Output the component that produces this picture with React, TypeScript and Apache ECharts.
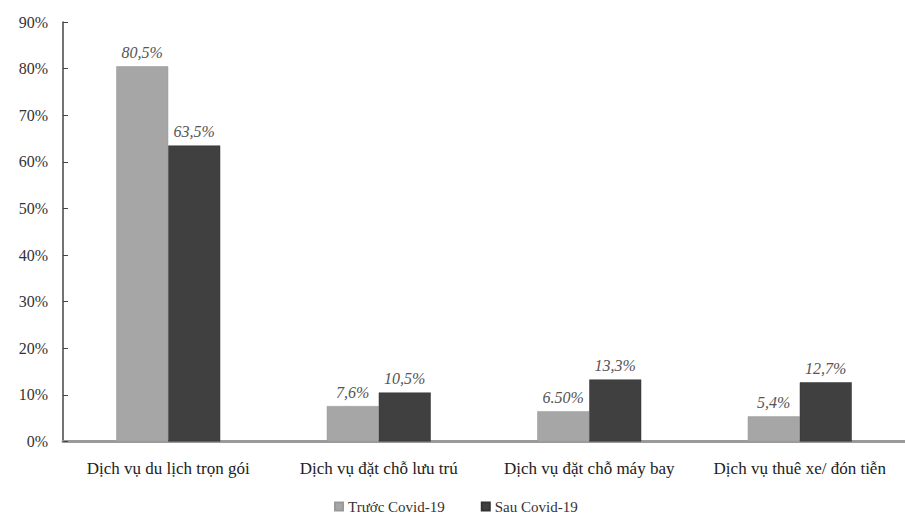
import React, { useEffect, useRef } from "react";
import * as echarts from "echarts";

const categories = [
  "Dịch vụ du lịch trọn gói",
  "Dịch vụ đặt chỗ lưu trú",
  "Dịch vụ đặt chỗ máy bay",
  "Dịch vụ thuê xe/ đón tiễn",
];
const beforeValues = [80.5, 7.6, 6.5, 5.4];
const afterValues = [63.5, 10.5, 13.3, 12.7];
const beforeLabels = ["80,5%", "7,6%", "6.50%", "5,4%"];
const afterLabels = ["63,5%", "10,5%", "13,3%", "12,7%"];
const seriesNames = ["Trước Covid-19", "Sau Covid-19"];
const yTicks = { min: 0, max: 90, interval: 10 };

const FONT = "'Liberation Serif', 'DejaVu Serif', serif";

export default function App() {
  const ref = useRef<HTMLDivElement>(null);
  useEffect(() => {
    if (!ref.current) return;
    const chart = echarts.init(ref.current, undefined, { renderer: "svg" });
    const labelStyle = {
      show: true,
      position: "top" as const,
      fontFamily: FONT,
      fontStyle: "italic" as const,
      fontSize: 16,
      color: "#555",
      distance: 6,
    };
    chart.setOption({
      animation: false,
      backgroundColor: "#fff",
      grid: { left: 63, top: 22, width: 856, height: 419.5, containLabel: false },
      legend: {
        data: seriesNames,
        left: 334,
        top: 499,
        padding: 0,
        itemWidth: 8,
        itemHeight: 8,
        itemGap: 36,
        icon: "rect",
        textStyle: { fontFamily: FONT, fontSize: 15, color: "#333" },
      },
      xAxis: {
        type: "category",
        data: categories,
        axisLine: { show: true, lineStyle: { color: "#9a9a9a", width: 3 } },
        axisTick: { show: false },
        axisLabel: {
          fontFamily: FONT,
          fontSize: 17,
          color: "#222",
          margin: 18,
          interval: 0,
        },
      },
      yAxis: {
        type: "value",
        min: yTicks.min,
        max: yTicks.max,
        interval: yTicks.interval,
        axisLine: { show: true, lineStyle: { color: "#444", width: 1.5 } },
        axisTick: { show: true, inside: true, length: 5, lineStyle: { color: "#444" } },
        splitLine: { show: false },
        axisLabel: {
          formatter: "{value}%",
          fontFamily: FONT,
          fontSize: 16,
          color: "#333",
          margin: 15,
        },
      },
      series: [
        {
          name: seriesNames[0],
          type: "bar",
          data: beforeValues,
          barWidth: 52,
          barGap: "0%",
          itemStyle: { color: "#a6a6a6", borderColor: "#999", borderWidth: 0.5 },
          label: { ...labelStyle, formatter: (p: any) => beforeLabels[p.dataIndex] },
        },
        {
          name: seriesNames[1],
          type: "bar",
          data: afterValues,
          barWidth: 52,
          barGap: "0%",
          itemStyle: { color: "#404040", borderColor: "#333", borderWidth: 0.5 },
          label: { ...labelStyle, formatter: (p: any) => afterLabels[p.dataIndex] },
        },
      ],
    });
    return () => chart.dispose();
  }, []);
  return <div ref={ref} style={{ width: 905, height: 517, position: "absolute", left: 0, top: 0 }} />;
}
